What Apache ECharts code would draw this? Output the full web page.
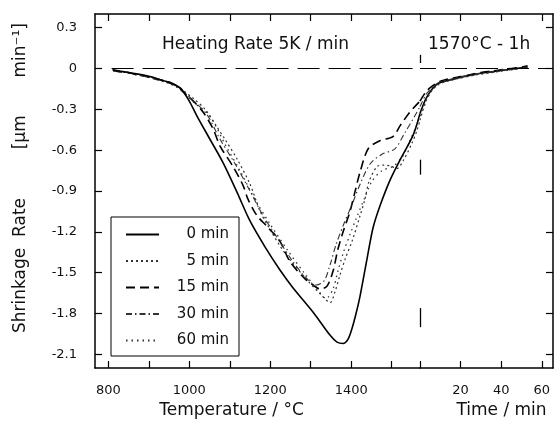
<!DOCTYPE html>
<html>
<head>
<meta charset="utf-8">
<script src="https://cdn.jsdelivr.net/npm/echarts@6/dist/echarts.min.js"></script>
<style>
  html, body { margin: 0; padding: 0; background: #fff; }
  #chart { width: 556px; height: 432px; }
</style>
</head>
<body>
<div id="chart"></div>
<script>
// Series names (legend order)
const seriesNames = ['0 min', '5 min', '15 min', '30 min', '60 min'];

// Heating ramp at 5 K/min: [temperature °C, shrinkage rate µm/min]
const ramp0 = [[810,-0.01],[830,-0.02],[850,-0.03],[870,-0.04],[890,-0.05],[910,-0.065],[930,-0.085],[950,-0.10],[965,-0.12],[980,-0.15],[1000,-0.24],[1019,-0.35],[1051,-0.52],[1083,-0.69],[1118,-0.91],[1150,-1.12],[1187,-1.31],[1224,-1.48],[1256,-1.61],[1306,-1.79],[1348,-1.96],[1365,-2.01],[1380,-2.02],[1392,-1.99],[1402,-1.91],[1412,-1.80],[1422,-1.67],[1439,-1.40],[1454,-1.17],[1471,-1.01],[1496,-0.82],[1521,-0.67],[1553,-0.49],[1570,-0.33]];
const ramp5 = [[812,-0.01],[830,-0.02],[850,-0.035],[870,-0.04],[890,-0.06],[910,-0.07],[930,-0.09],[950,-0.11],[970,-0.135],[984,-0.16],[1010,-0.22],[1039,-0.30],[1064,-0.41],[1088,-0.52],[1118,-0.665],[1150,-0.85],[1175,-1.05],[1195,-1.16],[1237,-1.36],[1293,-1.56],[1328,-1.67],[1348,-1.72],[1360,-1.64],[1372,-1.52],[1385,-1.40],[1402,-1.27],[1422,-1.08],[1434,-0.96],[1444,-0.83],[1464,-0.72],[1480,-0.71],[1496,-0.715],[1513,-0.735],[1528,-0.68],[1550,-0.55],[1562,-0.46],[1570,-0.38]];
const ramp15 = [[812,-0.015],[830,-0.025],[850,-0.03],[870,-0.045],[890,-0.055],[910,-0.07],[930,-0.085],[950,-0.105],[970,-0.13],[984,-0.17],[1010,-0.24],[1034,-0.32],[1059,-0.445],[1076,-0.57],[1108,-0.72],[1133,-0.86],[1145,-0.96],[1167,-1.08],[1192,-1.16],[1224,-1.27],[1249,-1.42],[1286,-1.545],[1310,-1.60],[1323,-1.62],[1340,-1.60],[1355,-1.49],[1367,-1.33],[1380,-1.20],[1397,-1.05],[1409,-0.91],[1422,-0.76],[1442,-0.59],[1471,-0.53],[1503,-0.50],[1521,-0.42],[1545,-0.32],[1570,-0.24]];
const ramp30 = [[812,-0.02],[830,-0.02],[850,-0.03],[870,-0.05],[890,-0.055],[910,-0.075],[930,-0.09],[950,-0.10],[970,-0.13],[984,-0.165],[1015,-0.25],[1044,-0.34],[1076,-0.52],[1113,-0.70],[1150,-0.90],[1180,-1.07],[1212,-1.22],[1254,-1.41],[1286,-1.53],[1313,-1.59],[1333,-1.56],[1348,-1.44],[1363,-1.29],[1382,-1.14],[1402,-1.00],[1422,-0.85],[1447,-0.70],[1476,-0.63],[1508,-0.59],[1533,-0.47],[1555,-0.36],[1570,-0.28]];
const ramp60 = [[812,-0.01],[830,-0.025],[850,-0.03],[870,-0.04],[890,-0.06],[910,-0.065],[930,-0.085],[950,-0.11],[970,-0.14],[984,-0.17],[1015,-0.26],[1051,-0.35],[1088,-0.555],[1125,-0.75],[1162,-0.96],[1199,-1.14],[1244,-1.34],[1286,-1.51],[1318,-1.63],[1338,-1.69],[1355,-1.62],[1367,-1.49],[1382,-1.34],[1397,-1.22],[1414,-1.09],[1432,-0.96],[1451,-0.83],[1476,-0.75],[1503,-0.72],[1526,-0.65],[1545,-0.53],[1560,-0.43],[1570,-0.35]];

// Isothermal hold at 1570 °C: [time min, shrinkage rate µm/min]
const hold0 = [[0,-0.33],[3,-0.22],[6,-0.15],[9,-0.11],[12,-0.095],[16,-0.08],[20,-0.065],[25,-0.05],[30,-0.035],[35,-0.025],[40,-0.015],[45,-0.005],[50,0.005],[53,0.01]];
const hold5 = [[0,-0.38],[3,-0.24],[6,-0.16],[9,-0.12],[12,-0.10],[16,-0.085],[20,-0.07],[25,-0.055],[30,-0.04],[35,-0.03],[40,-0.02],[45,-0.01],[50,0.0],[53,0.005]];
const hold15 = [[0,-0.24],[3,-0.17],[6,-0.13],[9,-0.10],[12,-0.085],[16,-0.07],[20,-0.06],[25,-0.045],[30,-0.03],[35,-0.02],[40,-0.01],[45,0.0],[50,0.01],[53,0.02]];
const hold30 = [[0,-0.28],[3,-0.19],[6,-0.14],[9,-0.105],[12,-0.09],[16,-0.075],[20,-0.06],[25,-0.05],[30,-0.035],[35,-0.025],[40,-0.012],[45,-0.004],[50,0.006],[53,0.015]];
const hold60 = [[0,-0.35],[3,-0.23],[6,-0.155],[9,-0.115],[12,-0.095],[16,-0.08],[20,-0.07],[25,-0.05],[30,-0.04],[35,-0.03],[40,-0.018],[45,-0.008],[50,0.002],[53,0.01]];

// Axis ranges, ticks and labels
const tempRange = [767, 1570];
const timeRange = [0, 65.5];
const rateRange = [-2.2, 0.4];
const tempTicks = [800, 900, 1000, 1100, 1200, 1300, 1400, 1500];
const tempLabels = [800, 1000, 1200, 1400];
const timeTicks = [0, 20, 40, 60];
const timeLabels = [20, 40, 60];
const rateTicks = [0.3, 0, -0.3, -0.6, -0.9, -1.2, -1.5, -1.8, -2.1];

// Zero reference line and the short markers at the ramp/hold boundary
const zeroLineFrom = 808;
const boundaryMarks = [[0.10, 0.04], [-0.67, -0.78], [-1.76, -1.90]];

const FONT = 'DejaVu Sans';
const INK = '#111';

const rampData = [ramp0, ramp5, ramp15, ramp30, ramp60];
const holdData = [hold0, hold5, hold15, hold30, hold60];
const lineStyles = [
  { type: 'solid', width: 1.6, color: '#000' },
  { type: [2, 3], width: 1.2, color: '#333' },
  { type: [9, 5], width: 1.6, color: '#000' },
  { type: [6, 3, 1.5, 3], width: 1.1, color: '#333' },
  { type: [1.5, 4], width: 1.3, color: '#333' }
];

const axisLineStyle = { color: '#000', width: 1.5 };
const tickStyle = { color: '#000', width: 1.2 };
const labelStyle = { fontFamily: FONT, fontSize: 13, color: INK };
const plainNumber = v => String(v);

function fmtRate(v) { return v === 0 ? '0' : v.toFixed(1); }

const zeroStyle = { color: '#000', width: 1.2, type: [22, 9] };
const series = [];
seriesNames.forEach((name, i) => {
  const ramp = {
    name, type: 'line', xAxisIndex: 0, yAxisIndex: 0,
    data: rampData[i], symbol: 'none', smooth: 0.3, color: '#000',
    lineStyle: lineStyles[i], silent: true, z: 3 + (i === 0 ? 1 : 0)
  };
  const hold = {
    name, type: 'line', xAxisIndex: 2, yAxisIndex: 1,
    data: holdData[i], symbol: 'none', smooth: 0.3, color: '#000',
    lineStyle: lineStyles[i], silent: true
  };
  if (i === 0) {
    ramp.markLine = {
      silent: true, symbol: 'none', label: { show: false }, animation: false,
      lineStyle: zeroStyle,
      data: [
        [{ coord: [zeroLineFrom, 0] }, { coord: [tempRange[1], 0] }],
        ...boundaryMarks.map(m => [
          { coord: [tempRange[1], m[0]], lineStyle: { color: '#000', width: 1.3, type: 'solid' } },
          { coord: [tempRange[1], m[1]] }
        ])
      ]
    };
    hold.markLine = {
      silent: true, symbol: 'none', label: { show: false }, animation: false,
      lineStyle: Object.assign({}, zeroStyle, { dashOffset: 6 }),
      data: [[{ coord: [timeRange[0], 0] }, { coord: [timeRange[1], 0] }]]
    };
  }
  series.push(ramp, hold);
});

function frameAxis(extra) {
  return Object.assign({
    type: 'value',
    axisLine: { onZero: false, lineStyle: axisLineStyle },
    splitLine: { show: false }
  }, extra);
}

const chart = echarts.init(document.getElementById('chart'), null, { renderer: 'canvas' });
chart.setOption({
  animation: false,
  backgroundColor: '#fff',
  textStyle: { fontFamily: FONT },
  grid: [
    { left: 95, top: 14, width: 325, bottom: 64 },
    { left: 420, top: 14, right: 3, bottom: 64 }
  ],
  xAxis: [
    frameAxis({
      gridIndex: 0, min: tempRange[0], max: tempRange[1], position: 'bottom',
      axisTick: { inside: true, length: 7, customValues: tempTicks, lineStyle: tickStyle },
      axisLabel: Object.assign({ customValues: tempLabels, margin: 16, formatter: plainNumber }, labelStyle),
      name: 'Temperature / °C', nameLocation: 'middle', nameGap: 32,
      nameTextStyle: { fontFamily: FONT, fontSize: 17, color: INK, padding: [0, 52, 0, 0] }
    }),
    frameAxis({
      gridIndex: 0, min: tempRange[0], max: tempRange[1], position: 'top',
      axisTick: { inside: true, length: 7, customValues: tempTicks, lineStyle: tickStyle },
      axisLabel: { show: false }
    }),
    frameAxis({
      gridIndex: 1, min: timeRange[0], max: timeRange[1], position: 'bottom',
      axisTick: { inside: true, length: 7, customValues: timeTicks, lineStyle: tickStyle },
      axisLabel: Object.assign({ customValues: timeLabels, margin: 16, formatter: plainNumber }, labelStyle),
      name: 'Time / min', nameLocation: 'middle', nameGap: 32,
      nameTextStyle: { fontFamily: FONT, fontSize: 17, color: INK, padding: [0, 0, 0, 30] }
    }),
    frameAxis({
      gridIndex: 1, min: timeRange[0], max: timeRange[1], position: 'top',
      axisTick: { inside: true, length: 7, customValues: timeTicks, lineStyle: tickStyle },
      axisLabel: { show: false }
    })
  ],
  yAxis: [
    frameAxis({
      gridIndex: 0, min: rateRange[0], max: rateRange[1], position: 'left',
      axisTick: { inside: true, length: 7, customValues: rateTicks, lineStyle: tickStyle },
      axisLabel: Object.assign({ customValues: rateTicks, margin: 18, formatter: fmtRate }, labelStyle),
      name: 'Shrinkage  Rate         [μm       min⁻¹]', nameLocation: 'middle', nameGap: 66, nameRotate: 90,
      nameTextStyle: { fontFamily: FONT, fontSize: 17, color: INK, padding: [0, 0, 0, 26] }
    }),
    frameAxis({
      gridIndex: 1, min: rateRange[0], max: rateRange[1], position: 'right',
      axisTick: { inside: true, length: 7, customValues: rateTicks, lineStyle: tickStyle },
      axisLabel: { show: false }
    })
  ],
  legend: {
    data: seriesNames,
    orient: 'vertical', left: 111, top: 217,
    itemWidth: 33, itemHeight: 14, itemGap: 11.5,
    padding: [10, 10, 8, 14],
    backgroundColor: '#fff', borderColor: '#000', borderWidth: 1, borderRadius: 0,
    selectedMode: false,
    itemStyle: { opacity: 0 },
    formatter: n => '{t|' + n + '}',
    textStyle: { rich: { t: { width: 65, align: 'right', fontFamily: FONT, fontSize: 15, color: INK } } }
  },
  graphic: [
    { type: 'text', left: 162, top: 36, silent: true,
      style: { text: 'Heating Rate 5K / min', font: '17px "DejaVu Sans"', fill: INK } },
    { type: 'text', left: 428, top: 36, silent: true,
      style: { text: '1570°C - 1h', font: '17px "DejaVu Sans"', fill: INK } }
  ],
  series
});
</script>
</body>
</html>
